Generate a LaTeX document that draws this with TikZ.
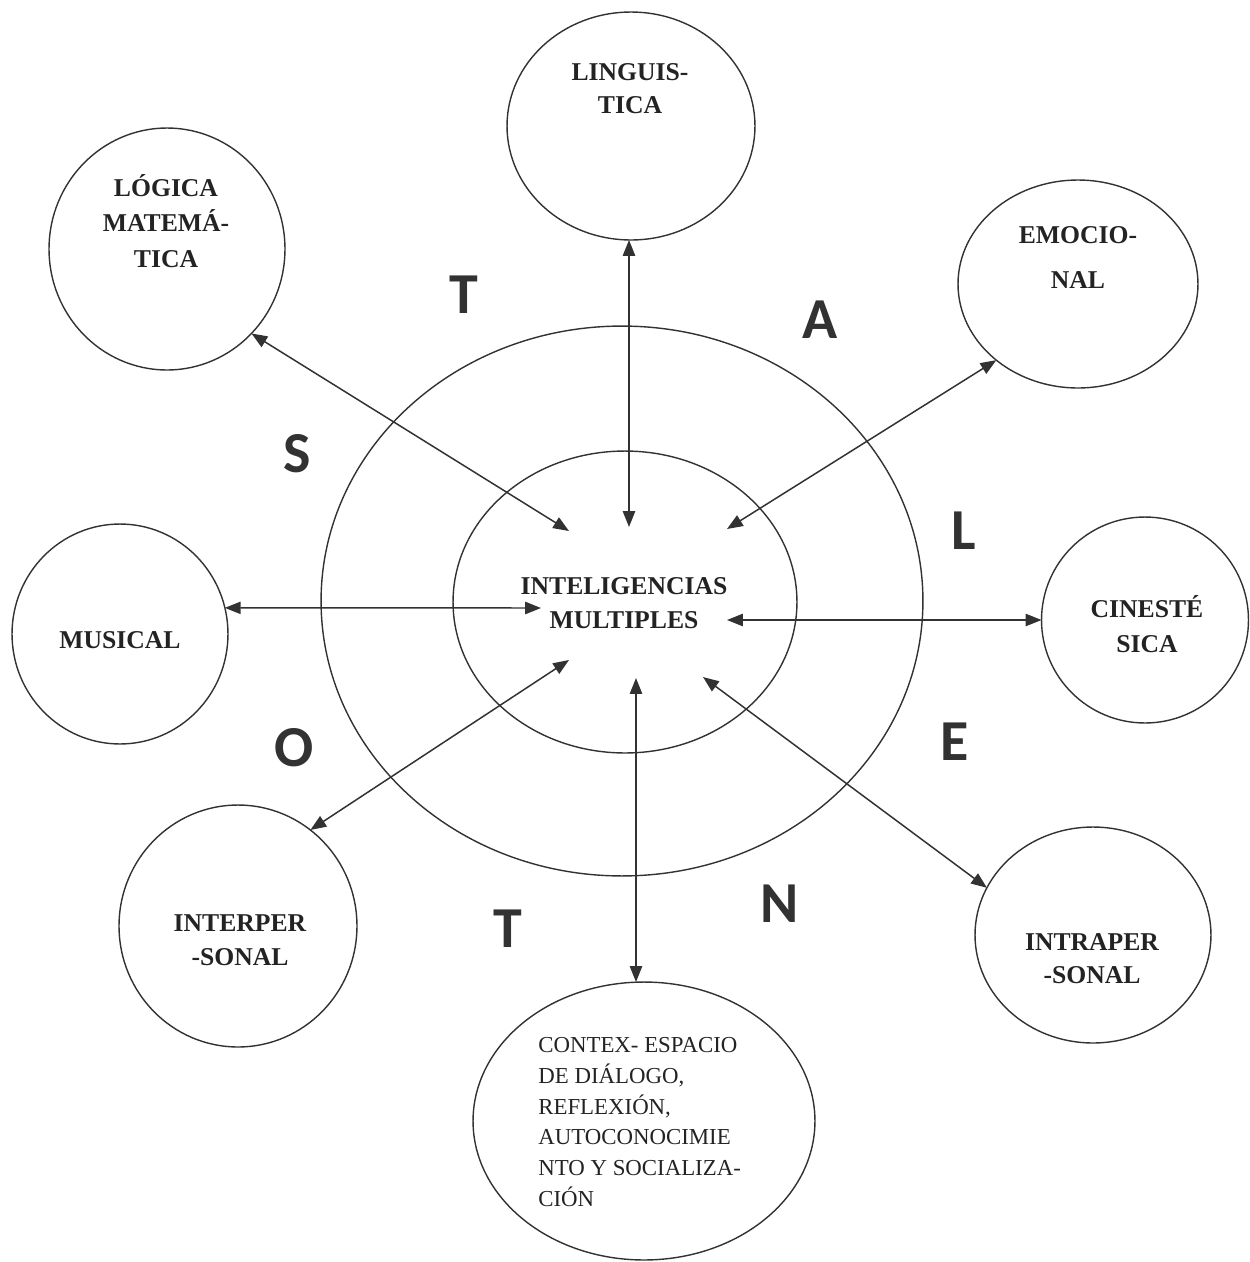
\documentclass[tikz,border=0pt]{standalone}
\usepackage{fontspec}
\setmainfont{Liberation Serif}
\newfontfamily\bigletters{Carlito}
\usetikzlibrary{shapes.geometric,arrows.meta}
\definecolor{ink}{RGB}{50,50,50}
\definecolor{txt}{RGB}{35,35,35}
\begin{document}
\begin{tikzpicture}[x=0.02cm,y=-0.02cm,
  circ/.style={draw=ink,line width=0.8pt,ellipse,inner sep=0pt,outer sep=0pt},
  lbl/.style={font=\bfseries\fontsize{14.6}{#1}\selectfont,align=center,text=txt,inner sep=0pt},
  bigl/.style={font=\bigletters\bfseries\fontsize{33}{34}\selectfont,text=ink,inner sep=0pt},
  link/.style={draw=ink,line width=0.85pt,{Triangle[length=9pt,width=7pt]}-{Triangle[length=9pt,width=7pt]}}]
\useasboundingbox (0,0) rectangle (1249,1262);

% central ellipses
\node[circ,minimum width=12.04cm,minimum height=11.00cm] (outer) at (622,601) {};
\node[circ,minimum width=6.88cm,minimum height=6.04cm] (inner) at (625,602) {};

% satellites
\node[circ,minimum width=4.96cm,minimum height=4.56cm] (lin) at (631,126) {};
\node[circ,minimum width=4.72cm,minimum height=4.84cm] (log) at (167,249) {};
\node[circ,minimum width=4.80cm,minimum height=4.16cm] (emo) at (1078,284) {};
\node[circ,minimum width=4.32cm,minimum height=4.40cm] (mus) at (120,634) {};
\node[circ,minimum width=4.14cm,minimum height=4.12cm] (cin) at (1145,620) {};
\node[circ,minimum width=4.76cm,minimum height=4.84cm] (inter) at (238,926) {};
\node[circ,minimum width=4.72cm,minimum height=4.32cm] (intra) at (1093,935) {};
\node[circ,minimum width=6.84cm,minimum height=5.56cm] (ctx) at (644,1121) {};

% inner arrow ends
\coordinate (clog) at (569,531);
\coordinate (clin) at (629,527);
\coordinate (cemo) at (727,529);
\coordinate (cmus) at (541,608);
\coordinate (ccin) at (727,620);
\coordinate (cint) at (569,660);
\coordinate (cctx) at (636,678);
\coordinate (cintra) at (703,677);

% connectors
\draw[link] (log.-45) -- (clog);
\draw[link] (lin.south -| clin) -- (clin);
\draw[link] (emo.-137) -- (cemo);
\draw[link] (mus.14) -- (cmus);
\draw[link] (ccin) -- (cin.west);
\draw[link] (inter.53) -- (cint);
\draw[link] (cctx) -- (cctx |- ctx.north);
\draw[link] (cintra) -- (intra.156);

% labels
\node[lbl=18.7] (tlin) at (630,88.5) {LINGUIS-\\TICA};
\node[lbl=20.4] (tlog) at (166,221) {LÓGICA\\MATEMÁ-\\TICA};
\node[lbl=25.5] (temo) at (1078,257.5) {EMOCIO-\\NAL};
\node[lbl=20] (tmus) at (120,640) {MUSICAL};
\node[lbl=19.8] (tcin) at (1147,624.5) {CINESTÉ\\SICA};
\node[lbl=19.3] (tint) at (240,940) {INTERPER\\-SONAL};
\node[lbl=18.7] (tintra) at (1092,958.5) {INTRAPER\\-SONAL};
\node[lbl=19.3] (tcen) at (624,603) {INTELIGENCIAS\\MULTIPLES};
\node[font=\fontsize{13}{17.6}\selectfont,align=left,anchor=west,text=txt,inner sep=0pt] (tctx) at (538,1122)
  {CONTEX- ESPACIO\\DE DIÁLOGO,\\REFLEXIÓN,\\AUTOCONOCIMIE\\NTO Y SOCIALIZA-\\CIÓN};

% big letters
\node[bigl] (l1) at (464,295) {T};
\node[bigl] (l2) at (820,320) {A};
\node[bigl] (l3) at (297,454) {S};
\node[bigl] (l4) at (964,531) {L};
\node[bigl] (l5) at (294,748) {O};
\node[bigl] (l6) at (955,742) {E};
\node[bigl] (l7) at (508,929) {T};
\node[bigl] (l8) at (780,904) {N};
\end{tikzpicture}
\end{document}
